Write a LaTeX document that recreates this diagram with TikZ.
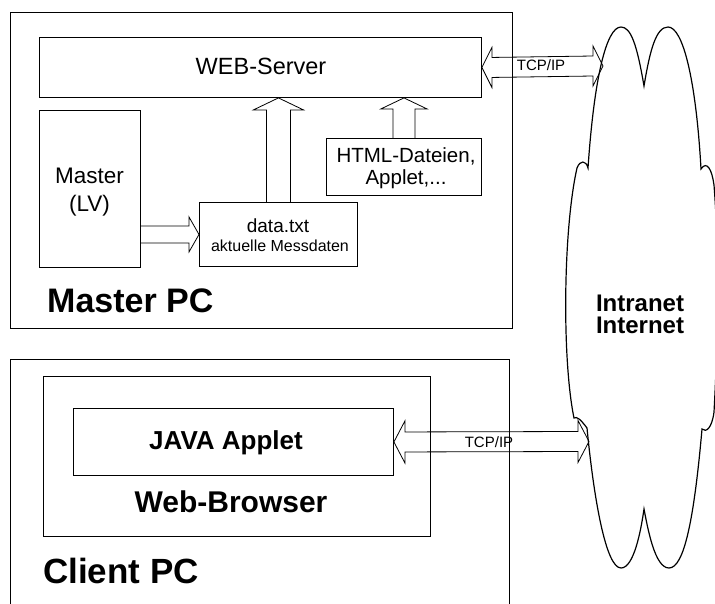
\documentclass[tikz,border=0pt]{standalone}
\usepackage{fontspec}
\setmainfont{Liberation Sans}
\usetikzlibrary{calc}
\tikzset{
  box/.style={draw, line width=0.9pt, inner sep=0pt, anchor=north west},
  blk/.style={draw, line width=0.8pt, line join=miter},
  txt/.style={inner sep=0pt, anchor=base},
  cloudline/.style={draw, line width=1.2pt},
}
\newcommand{\fs}[1]{\fontsize{#1}{#1}\selectfont}
\begin{document}
\begin{tikzpicture}[x=1pt,y=-1pt]
\useasboundingbox (0,0) rectangle (715,603);
% Master PC
\node[box, minimum width=502pt, minimum height=316pt] (mpc) at (10,12) {};
\node[box, minimum width=442pt, minimum height=60pt] (web) at (39,37) {};
\node[box, minimum width=101pt, minimum height=157pt] (mas) at (39,110) {};
\node[box, minimum width=158pt, minimum height=64pt] (data) at (199,202) {};
\node[box, minimum width=155pt, minimum height=57pt] (html) at (326,138) {};
\node[txt] (tweb) at (261,74) {\fs{23.5}WEB-Server};
\node[txt] (tmas1) at (89.5,183) {\fs{22.5}Master};
\node[txt] (tmas2) at (89.5,211) {\fs{22.5}(LV)};
\node[txt] (tdat1) at (278,232) {\fs{19}data.txt};
\node[txt] (tdat2) at (280,251) {\fs{16}aktuelle Messdaten};
\node[txt] (thtml1) at (406,162) {\fs{20.5}HTML-Dateien,};
\node[txt] (thtml2) at (406,184) {\fs{20.5}Applet,...};
\node[txt, anchor=base west] (tmpc) at (47,312) {\fs{34}\bfseries Master PC};
% Client PC
\node[box, minimum width=499pt, minimum height=260pt] (cpc) at (10,359) {};
\node[box, minimum width=387pt, minimum height=160pt] (wb) at (43,376) {};
\node[box, minimum width=320pt, minimum height=67pt] (app) at (73,408) {};
\node[txt] (tapp) at (226,449) {\fs{26}\bfseries JAVA Applet};
\node[txt] (twb) at (231,512) {\fs{30}\bfseries Web-Browser};
\node[txt, anchor=base west] (tcpc) at (43,583) {\fs{35}\bfseries Client PC};
% Cloud
\draw[cloudline] (644,86)
  .. controls (637,45) and (631,27) .. (621,27)
  .. controls (606,27) and (594,80) .. (588,168)
  .. controls (586,160) and (580,160) .. (577,168)
  .. controls (563,230) and (562,360) .. (574,418)
  .. controls (577,416) and (581,420) .. (587,428)
  .. controls (594,500) and (606,568) .. (621,568)
  .. controls (634,568) and (641,530) .. (644,509)
  .. controls (648,530) and (655,568) .. (669,568)
  .. controls (684,568) and (694,520) .. (702,429)
  .. controls (706,433) and (712,428) .. (714,412)
  .. controls (719,320) and (719,250) .. (714,185)
  .. controls (712,170) and (707,160) .. (701,169)
  .. controls (696,80) and (683,27) .. (668,27)
  .. controls (656,27) and (650,50) .. (644,86) -- cycle;
\node[txt] (net1) at (640,311) {\fs{24}\bfseries Intranet};
\node[txt] (net2) at (640,333) {\fs{24}\bfseries Internet};
\coordinate (c1) at (603,66);
\coordinate (c2) at (589,441.5);
% up arrow data -> web
\coordinate (t1) at (data.north |- web.south);
\draw[blk] ($(data.north)+(-12,0)$) -- ($(t1)+(-12,12)$) -- ($(t1)+(-25,12)$) -- (t1)
  -- ($(t1)+(25,12)$) -- ($(t1)+(12,12)$) -- ($(data.north)+(12,0)$);
% up arrow html -> web
\coordinate (t2) at (html.north |- web.south);
\draw[blk] ($(html.north)+(-11,0)$) -- ($(t2)+(-11,11)$) -- ($(t2)+(-23,11)$) -- (t2)
  -- ($(t2)+(23,11)$) -- ($(t2)+(11,11)$) -- ($(html.north)+(11,0)$);
% right arrow master -> data
\coordinate (s3) at (mas.east |- data.west);
\draw[blk] ($(s3)+(0,-8.5)$) -- ($(data.west)+(-10,-8.5)$) -- ($(data.west)+(-10,-17.5)$) -- (data.west)
  -- ($(data.west)+(-10,17.5)$) -- ($(data.west)+(-10,8.5)$) -- ($(s3)+(0,8.5)$);
% double arrow web <-> cloud
\draw[blk] (web.east) -- ($(web.east)+(10,-20)$) -- ($(web.east)+(10,-10)$) -- ($(c1)+(-10,-10)$)
  -- ($(c1)+(-10,-20)$) -- (c1) -- ($(c1)+(-10,20)$) -- ($(c1)+(-10,10)$)
  -- ($(web.east)+(10,10)$) -- ($(web.east)+(10,20)$) -- cycle;
\node[txt] (tcp1) at (541,70) {\fs{15}TCP/IP};
% double arrow applet <-> cloud
\draw[blk] (app.east) -- ($(app.east)+(11,-21)$) -- ($(app.east)+(11,-10)$) -- ($(c2)+(-11,-10)$)
  -- ($(c2)+(-11,-21)$) -- (c2) -- ($(c2)+(-11,21)$) -- ($(c2)+(-11,10)$)
  -- ($(app.east)+(11,10)$) -- ($(app.east)+(11,21)$) -- cycle;
\node[txt] (tcp2) at (489,447) {\fs{15}TCP/IP};
\end{tikzpicture}
\end{document}
